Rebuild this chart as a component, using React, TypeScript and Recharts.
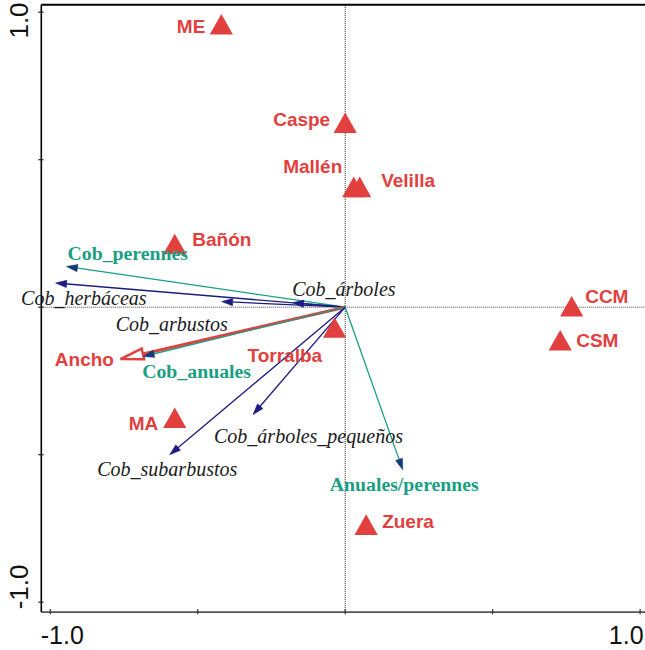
import React from 'react';
import { ScatterChart, Scatter, XAxis, YAxis, ReferenceLine } from 'recharts';

// ---------- DATA ----------
const siteNames = ['ME', 'Caspe', 'Mallén', 'Velilla', 'Bañón', 'CCM', 'CSM', 'Torralba', 'MA', 'Zuera'];
const siteX = [-0.42, 0.0, 0.029, 0.049, -0.578, 0.768, 0.729, -0.036, -0.578, 0.071];
const siteY = [0.959, 0.625, 0.408, 0.408, 0.214, 0.003, -0.112, -0.069, -0.375, -0.737];

const varNames = [
  'Cob_perennes',
  'Cob_herbáceas',
  'Cob_árboles',
  'Cob_arbustos',
  'Ancho',
  'Cob_anuales',
  'Cob_árboles_pequeños',
  'Cob_subarbustos',
  'Anuales/perennes',
];
const varX = [-0.945, -0.982, -0.178, -0.419, -0.762, -0.685, -0.3125, -0.595, 0.195];
const varY = [0.138, 0.082, 0.015, 0.019, -0.176, -0.167, -0.364, -0.5, -0.551];
const varKinds = ['env', 'species', 'species', 'species', 'supp', 'env', 'species', 'species', 'env'];

const axisTicks = [-1, -0.5, 0, 0.5, 1];
const axisTickLabels = ['-1.0', '', '', '', '1.0'];

const X_DOMAIN: [number, number] = [-1.0305, 1.0305];
const Y_DOMAIN: [number, number] = [-1.0336, 1.0254];

// ---------- STYLES ----------
const RED = '#e23f3f';
const GREEN = '#1a9f82';
const NAVY = '#1c1c80';
const SANS = "'Liberation Sans', Arial, sans-serif";
const SERIF = "'Liberation Serif', 'Times New Roman', serif";

const kindStyle: Record<string, any> = {
  env: { line: GREEN, head: '#143a78', width: 1.3, headLen: 11, headHalf: 3.6, hollow: false },
  species: { line: NAVY, head: NAVY, width: 1.3, headLen: 11, headHalf: 3.6, hollow: false },
  supp: { line: RED, head: RED, width: 3, headLen: 23, headHalf: 5.5, hollow: true },
};

const kindText: Record<string, any> = {
  env: { fill: GREEN, fontFamily: SERIF, fontWeight: 'bold', fontStyle: 'normal', fontSize: 19.8 },
  species: { fill: '#1a1a1a', fontFamily: SERIF, fontWeight: 'normal', fontStyle: 'italic', fontSize: 20 },
  supp: { fill: RED, fontFamily: SANS, fontWeight: 'bold', fontStyle: 'normal', fontSize: 19 },
};

const varLabelPos: Record<string, { dx: number; dy: number; anchor: 'start' | 'end' | 'middle' }> = {
  Cob_perennes: { dx: 1, dy: -6.7, anchor: 'start' },
  'Cob_herbáceas': { dx: -34.5, dy: 21.7, anchor: 'start' },
  'Cob_árboles': { dx: -0.5, dy: -7, anchor: 'start' },
  Cob_arbustos: { dx: -106, dy: 29, anchor: 'start' },
  Ancho: { dx: -6.5, dy: 7.3, anchor: 'end' },
  Cob_anuales: { dx: -1, dy: 21.3, anchor: 'start' },
  'Cob_árboles_pequeños': { dx: -39, dy: 28, anchor: 'start' },
  Cob_subarbustos: { dx: -72.5, dy: 21, anchor: 'start' },
  'Anuales/perennes': { dx: -73, dy: 21, anchor: 'start' },
};

const siteLabelPos: Record<string, { dx: number; dy: number; anchor: 'start' | 'end' }> = {
  ME: { dx: -16, dy: 8.9, anchor: 'end' },
  Caspe: { dx: -15, dy: 3.6, anchor: 'end' },
  'Mallén': { dx: -11.5, dy: -14, anchor: 'end' },
  Velilla: { dx: 21.5, dy: 0, anchor: 'start' },
  'Bañón': { dx: 17.5, dy: 2.2, anchor: 'start' },
  CCM: { dx: 13.5, dy: -3.2, anchor: 'start' },
  CSM: { dx: 16, dy: 6.5, anchor: 'start' },
  Torralba: { dx: -12.5, dy: 34, anchor: 'end' },
  MA: { dx: -16.5, dy: 12, anchor: 'end' },
  Zuera: { dx: 16, dy: 3.3, anchor: 'start' },
};

// ---------- BUILT TABLES ----------
const sites = siteNames.map((name, i) => ({ name, x: siteX[i], y: siteY[i] }));
const vars = varNames.map((name, i) => ({ name, x: varX[i], y: varY[i], kind: varKinds[i] }));

// ---------- SHAPES ----------
function ArrowLine({ points, kind }: { points: any[]; kind: string }) {
  if (!points || points.length < 2) return null;
  const p0 = points[0];
  const p1 = points[1];
  const st = kindStyle[kind];
  const ang = Math.atan2(p1.y - p0.y, p1.x - p0.x);
  const ux = Math.cos(ang);
  const uy = Math.sin(ang);
  const px = -uy;
  const py = ux;
  const bx = p1.x - ux * st.headLen;
  const by = p1.y - uy * st.headLen;
  const d = `M${p1.x},${p1.y} L${bx + px * st.headHalf},${by + py * st.headHalf} L${bx - px * st.headHalf},${by - py * st.headHalf} Z`;
  return (
    <g>
      <line
        x1={p0.x}
        y1={p0.y}
        x2={st.hollow ? bx : p1.x - ux * 3}
        y2={st.hollow ? by : p1.y - uy * 3}
        stroke={st.line}
        strokeWidth={st.width}
      />
      <path
        d={d}
        fill={st.hollow ? '#ffffff' : st.head}
        stroke={st.hollow ? st.line : st.head}
        strokeWidth={st.hollow ? 2.4 : 0.6}
        strokeLinejoin="miter"
      />
    </g>
  );
}

function Triangle(props: any) {
  const { cx, cy } = props;
  if (cx == null || cy == null) return <g />;
  const w = 11.6;
  const h = 10.3;
  return <path d={`M${cx},${cy - h} L${cx + w},${cy + h} L${cx - w},${cy + h} Z`} fill={RED} />;
}

function SiteLabel(props: any) {
  const { cx, cy } = props;
  const name = props.payload?.name ?? props.name;
  const pos = siteLabelPos[name];
  if (cx == null || !pos) return <g />;
  return (
    <text
      x={cx + pos.dx}
      y={cy + pos.dy}
      textAnchor={pos.anchor}
      fill={RED}
      fontFamily={SANS}
      fontWeight="bold"
      fontSize={19}
    >
      {name}
    </text>
  );
}

function VarLabel(props: any) {
  const { cx, cy } = props;
  const name = props.payload?.name ?? props.name;
  const kind = props.payload?.kind ?? props.kind;
  const pos = varLabelPos[name];
  const ts = kindText[kind];
  if (cx == null || !pos || !ts) return <g />;
  return (
    <text
      x={cx + pos.dx}
      y={cy + pos.dy}
      textAnchor={pos.anchor}
      fill={ts.fill}
      fontFamily={ts.fontFamily}
      fontWeight={ts.fontWeight}
      fontStyle={ts.fontStyle}
      fontSize={ts.fontSize}
    >
      {name}
    </text>
  );
}

function XTick(props: any) {
  const { x, y, payload } = props;
  const i = axisTicks.indexOf(payload?.value);
  const label = i >= 0 ? axisTickLabels[i] : '';
  const first = i === 0;
  return (
    <g>
      <line x1={x} x2={x} y1={y - 3.2} y2={y + 2.2} stroke="#333" strokeWidth={1.2} />
      {label ? (
        <text
          x={first ? x - 9.5 : x + 3.5}
          y={y + 32}
          textAnchor={first ? 'start' : 'end'}
          fontFamily={SANS}
          fontSize={25}
          fill="#111"
        >
          {label}
        </text>
      ) : null}
    </g>
  );
}

function YTick(props: any) {
  const { x, y, payload } = props;
  const i = axisTicks.indexOf(payload?.value);
  const label = i >= 0 ? axisTickLabels[i] : '';
  const cy = payload?.value > 0 ? y + 8.3 : y - 15.3;
  const bx = x - 13.3;
  return (
    <g>
      <line x1={x - 3} x2={x + 2.2} y1={y} y2={y} stroke="#222" strokeWidth={1.2} />
      {label ? (
        <text
          x={bx}
          y={cy}
          transform={`rotate(-90, ${bx}, ${cy})`}
          textAnchor="middle"
          fontFamily={SANS}
          fontSize={26}
          fill="#111"
        >
          {label}
        </text>
      ) : null}
    </g>
  );
}

export default function App() {
  const W = 660;
  const H = 650;
  return (
    <div style={{ position: 'absolute', left: 0, top: 0, width: 645, height: 650, overflow: 'hidden', background: '#fff' }}>
      <ScatterChart width={W} height={H} margin={{ top: 4.7, left: 0, right: W - 649.1, bottom: 0 }}>
        <XAxis
          type="number"
          dataKey="x"
          domain={X_DOMAIN}
          ticks={axisTicks}
          interval={0}
          height={H - 612.1}
          tickSize={0}
          tickMargin={0}
          tickLine={false}
          axisLine={{ stroke: '#555', strokeWidth: 1.6 }}
          tick={(p: any) => <XTick {...p} />}
        />
        <YAxis
          type="number"
          dataKey="y"
          domain={Y_DOMAIN}
          ticks={axisTicks}
          interval={0}
          width={41.3}
          tickSize={0}
          tickMargin={0}
          tickLine={false}
          axisLine={{ stroke: '#000', strokeWidth: 1.6 }}
          tick={(p: any) => <YTick {...p} />}
        />
        <ReferenceLine x={0} stroke="#222" strokeWidth={1} strokeDasharray="1 1" />
        <ReferenceLine y={0} stroke="#444" strokeWidth={1} strokeDasharray="1 1" />
        <ReferenceLine y={Y_DOMAIN[1]} stroke="#000" strokeWidth={2} ifOverflow="visible" />
        {vars.map((v) => (
          <Scatter
            key={v.name}
            data={[
              { x: 0, y: 0 },
              { x: v.x, y: v.y },
            ]}
            isAnimationActive={false}
            line={(lp: any) => <ArrowLine points={lp.points} kind={v.kind} />}
            shape={() => <g />}
          />
        ))}
        <Scatter data={sites} isAnimationActive={false} shape={(p: any) => <Triangle {...p} />} />
        <Scatter data={vars} isAnimationActive={false} shape={(p: any) => <VarLabel {...p} />} />
        <Scatter data={sites} isAnimationActive={false} shape={(p: any) => <SiteLabel {...p} />} />
      </ScatterChart>
    </div>
  );
}
